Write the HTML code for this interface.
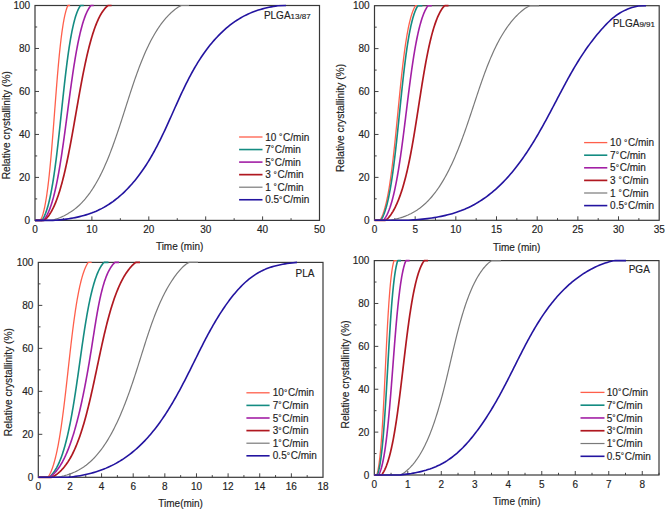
<!DOCTYPE html>
<html><head><meta charset="utf-8"><style>
html,body{margin:0;padding:0;background:#fff;}
body{width:666px;height:512px;overflow:hidden;font-family:"Liberation Sans",sans-serif;}
svg{display:block;}
</style></head><body>
<svg width="666" height="512" viewBox="0 0 666 512"><path d="M63.45 220.4v-2.2M91.9 220.4v-4M120.35 220.4v-2.2M148.8 220.4v-4M177.25 220.4v-2.2M205.7 220.4v-4M234.15 220.4v-2.2M262.6 220.4v-4M291.05 220.4v-2.2M35 198.91h2.2M35 177.42h4M35 155.93h2.2M35 134.44h4M35 112.95h2.2M35 91.46h4M35 69.97h2.2M35 48.48h4M35 26.99h2.2" stroke="#444" stroke-width="1" fill="none"/>
<rect x="35" y="5.5" width="284.5" height="214.9" fill="none" stroke="#383838" stroke-width="1.2"/>
<g font-family="Liberation Sans, sans-serif" stroke="#222" stroke-width="0.15" font-size="10" fill="#222"><text x="35" y="233" text-anchor="middle">0</text><text x="91.9" y="233" text-anchor="middle">10</text><text x="148.8" y="233" text-anchor="middle">20</text><text x="205.7" y="233" text-anchor="middle">30</text><text x="262.6" y="233" text-anchor="middle">40</text><text x="319.5" y="233" text-anchor="middle">50</text><text x="30.1" y="224" text-anchor="end">0</text><text x="30.1" y="181.02" text-anchor="end">20</text><text x="30.1" y="138.04" text-anchor="end">40</text><text x="30.1" y="95.06" text-anchor="end">60</text><text x="30.1" y="52.08" text-anchor="end">80</text><text x="30.1" y="9.1" text-anchor="end">100</text></g>
<text font-family="Liberation Sans, sans-serif" stroke="#222" stroke-width="0.15" font-size="10" fill="#222" x="179.6" y="249.6" text-anchor="middle">Time (min)</text>
<text font-family="Liberation Sans, sans-serif" stroke="#222" stroke-width="0.15" font-size="10.2" fill="#222" transform="translate(10 125.2) rotate(-90)" text-anchor="middle">Relative crystallinity (%)</text>
<text font-family="Liberation Sans, sans-serif" stroke="#222" stroke-width="0.15" font-size="10" fill="#222" x="263.9" y="18.9">PLGA<tspan font-size="8" dy="0.4">13/87</tspan></text>
<g font-family="Liberation Sans, sans-serif" stroke="#222" stroke-width="0.15" font-size="10" fill="#222"><path d="M239.1 137H262.5" stroke="#ff5f4b" stroke-width="1.3"/><text x="265.2" y="140.6">10 <tspan font-size="8.3" dy="-0.7">°</tspan><tspan dx="0.68" dy="0.7">C/min</tspan></text><path d="M239.1 149.55H262.5" stroke="#148c82" stroke-width="1.6"/><text x="265.2" y="153.15">7<tspan font-size="8.3" dy="-0.7">°</tspan><tspan dx="0.68" dy="0.7">C/min</tspan></text><path d="M239.1 162.1H262.5" stroke="#a21fa5" stroke-width="1.6"/><text x="265.2" y="165.7">5<tspan font-size="8.3" dy="-0.7">°</tspan><tspan dx="0.68" dy="0.7">C/min</tspan></text><path d="M239.1 174.65H262.5" stroke="#b01820" stroke-width="1.7"/><text x="265.2" y="178.25">3 <tspan font-size="8.3" dy="-0.7">°</tspan><tspan dx="0.68" dy="0.7">C/min</tspan></text><path d="M239.1 187.2H262.5" stroke="#7a7a7a" stroke-width="1.2"/><text x="265.2" y="190.8">1 <tspan font-size="8.3" dy="-0.7">°</tspan><tspan dx="0.68" dy="0.7">C/min</tspan></text><path d="M239.1 199.75H262.5" stroke="#2314a0" stroke-width="1.6"/><text x="265.2" y="203.35">0.5<tspan font-size="8.3" dy="-0.7">°</tspan><tspan dx="0.68" dy="0.7">C/min</tspan></text></g>
<path d="M35 220.4L35.71 220.4 36.02 220.4 36.32 220.4 36.62 220.4 36.92 220.4 37.21 220.4 37.5 220.4 37.78 220.4 38.07 220.4 38.35 220.4 38.62 220.4 38.89 220.4 39.16 220.4 39.43 220.4 39.7 220.4 39.96 220.4 40.22 220.4 40.47 220.03 40.72 219.61 40.97 219.15 41.22 218.66 41.46 218.13 41.71 217.56 41.95 216.96 42.18 216.33 42.42 215.66 42.65 214.96 42.87 214.23 43.1 213.47 43.32 212.67 43.55 211.85 43.76 210.99 43.98 210.11 44.2 209.19 44.41 208.24 44.62 207.27 44.82 206.27 45.03 205.24 45.23 204.18 45.43 203.1 45.63 201.99 45.83 200.85 46.02 199.69 46.22 198.5 46.41 197.29 46.6 196.06 46.79 194.8 46.97 193.51 47.15 192.21 47.34 190.88 47.52 189.53 47.7 188.16 47.87 186.77 48.05 185.36 48.22 183.93 48.39 182.48 48.57 181.01 48.74 179.52 48.9 178.02 49.07 176.49 49.24 174.95 49.4 173.4 49.56 171.82 49.72 170.23 49.88 168.63 50.04 167.01 50.2 165.38 50.36 163.73 50.51 162.07 50.67 160.39 50.82 158.71 50.98 157.01 51.13 155.3 51.28 153.58 51.43 151.85 51.58 150.11 51.73 148.36 51.87 146.59 52.02 144.83 52.17 143.05 52.31 141.26 52.46 139.47 52.6 137.67 52.75 135.86 52.89 134.05 53.04 132.23 53.18 130.41 53.32 128.58 53.46 126.75 53.61 124.92 53.75 123.08 53.89 121.24 54.03 119.39 54.17 117.55 54.31 115.7 54.45 113.85 54.59 112 54.73 110.16 54.87 108.31 55.02 106.46 55.16 104.62 55.3 102.77 55.44 100.93 55.58 99.09 55.72 97.26 55.86 95.43 56.01 93.6 56.15 91.78 56.29 89.96 56.43 88.15 56.58 86.35 56.72 84.55 56.87 82.75 57.01 80.97 57.16 79.19 57.31 77.42 57.45 75.67 57.6 73.92 57.75 72.17 57.9 70.44 58.05 68.73 58.2 67.02 58.35 65.32 58.5 63.64 58.66 61.96 58.81 60.3 58.97 58.66 59.13 57.03 59.28 55.41 59.44 53.81 59.6 52.22 59.76 50.65 59.93 49.09 60.09 47.55 60.26 46.03 60.42 44.53 60.59 43.04 60.76 41.58 60.93 40.13 61.1 38.7 61.28 37.29 61.45 35.9 61.63 34.54 61.81 33.19 61.99 31.87 62.17 30.56 62.35 29.29 62.54 28.03 62.73 26.8 62.92 25.59 63.11 24.41 63.3 23.25 63.49 22.11 63.69 21.01 63.89 19.93 64.09 18.87 64.29 17.85 64.5 16.85 64.71 15.88 64.92 14.94 65.13 14.02 65.34 13.14 65.56 12.29 65.78 11.47 66 10.67 66.22 9.92 66.45 9.19 66.68 8.49 66.91 7.83 67.14 7.2 67.38 6.61 67.61 6.05 67.86 5.52 68.1 5.5 68.35 5.5 68.6 5.5 68.85 5.5 70.1 5.5" fill="none" stroke="#ff5f4b" stroke-width="1.3" stroke-linejoin="round"/>
<path d="M35 220.4L35.63 220.4 36.07 220.4 36.51 220.4 36.94 220.4 37.36 220.4 37.79 220.4 38.2 220.4 38.61 220.4 39.02 220.4 39.42 220.4 39.81 220.4 40.2 220.4 40.59 220.4 40.97 220.4 41.35 220.4 41.72 220.35 42.09 219.9 42.45 219.4 42.81 218.87 43.17 218.3 43.52 217.69 43.86 217.05 44.21 216.37 44.55 215.66 44.88 214.92 45.21 214.14 45.54 213.33 45.86 212.48 46.18 211.61 46.5 210.7 46.81 209.76 47.12 208.79 47.42 207.8 47.72 206.77 48.02 205.71 48.32 204.63 48.61 203.51 48.89 202.37 49.18 201.2 49.46 200.01 49.74 198.79 50.02 197.54 50.29 196.27 50.56 194.98 50.83 193.66 51.09 192.31 51.35 190.95 51.61 189.56 51.87 188.15 52.12 186.72 52.37 185.26 52.62 183.79 52.87 182.29 53.11 180.78 53.36 179.25 53.6 177.7 53.83 176.13 54.07 174.54 54.3 172.94 54.54 171.31 54.77 169.68 54.99 168.03 55.22 166.36 55.44 164.68 55.67 162.98 55.89 161.27 56.11 159.55 56.33 157.81 56.54 156.06 56.76 154.3 56.97 152.53 57.19 150.75 57.4 148.96 57.61 147.16 57.82 145.35 58.03 143.53 58.23 141.7 58.44 139.87 58.65 138.02 58.85 136.17 59.06 134.32 59.26 132.46 59.46 130.59 59.66 128.72 59.87 126.85 60.07 124.97 60.27 123.09 60.47 121.2 60.67 119.32 60.87 117.43 61.07 115.54 61.27 113.65 61.47 111.76 61.67 109.86 61.87 107.97 62.07 106.09 62.27 104.2 62.47 102.31 62.67 100.43 62.87 98.55 63.07 96.68 63.28 94.81 63.48 92.94 63.68 91.08 63.89 89.23 64.09 87.38 64.3 85.53 64.5 83.7 64.71 81.87 64.92 80.05 65.13 78.24 65.34 76.44 65.55 74.65 65.76 72.87 65.97 71.09 66.19 69.33 66.4 67.59 66.62 65.85 66.84 64.13 67.06 62.42 67.28 60.72 67.51 59.04 67.73 57.37 67.96 55.71 68.19 54.08 68.42 52.46 68.65 50.85 68.89 49.26 69.12 47.69 69.36 46.14 69.6 44.61 69.85 43.09 70.09 41.6 70.34 40.12 70.59 38.67 70.84 37.24 71.1 35.82 71.36 34.44 71.62 33.07 71.88 31.72 72.15 30.4 72.42 29.11 72.69 27.84 72.96 26.59 73.24 25.37 73.52 24.17 73.8 23 74.09 21.86 74.38 20.75 74.67 19.66 74.97 18.6 75.27 17.57 75.57 16.57 75.88 15.6 76.19 14.66 76.5 13.76 76.82 12.88 77.14 12.03 77.47 11.22 77.8 10.44 78.13 9.7 78.47 8.99 78.81 8.31 79.15 7.66 79.5 7.06 79.85 6.49 80.21 5.95 80.57 5.5 80.94 5.5 81.31 5.5 81.69 5.5 82.07 5.5 82.45 5.5 83.8 5.5" fill="none" stroke="#148c82" stroke-width="1.6" stroke-linejoin="round"/>
<path d="M35 220.4L35.99 220.4 36.52 220.4 37.05 220.4 37.57 220.4 38.08 220.4 38.59 220.4 39.09 220.4 39.58 220.4 40.07 220.4 40.55 220.4 41.03 220.4 41.51 220.4 41.97 220.4 42.43 220.4 42.89 220.4 43.34 220.27 43.79 219.8 44.23 219.29 44.66 218.75 45.09 218.17 45.52 217.56 45.94 216.91 46.35 216.23 46.76 215.51 47.17 214.76 47.57 213.98 47.97 213.17 48.36 212.32 48.75 211.44 49.13 210.53 49.51 209.59 49.89 208.62 50.26 207.62 50.62 206.59 50.99 205.53 51.35 204.45 51.7 203.33 52.05 202.19 52.4 201.02 52.75 199.83 53.09 198.61 53.42 197.37 53.76 196.1 54.09 194.81 54.41 193.49 54.74 192.15 55.06 190.79 55.37 189.4 55.69 187.99 56 186.57 56.31 185.12 56.61 183.65 56.92 182.16 57.22 180.65 57.51 179.12 57.81 177.58 58.1 176.01 58.39 174.43 58.68 172.83 58.96 171.22 59.25 169.59 59.53 167.94 59.81 166.28 60.08 164.61 60.36 162.92 60.63 161.22 60.9 159.5 61.17 157.77 61.44 156.03 61.71 154.28 61.97 152.52 62.23 150.74 62.5 148.96 62.76 147.17 63.01 145.37 63.27 143.56 63.53 141.74 63.78 139.91 64.04 138.08 64.29 136.24 64.55 134.39 64.8 132.54 65.05 130.68 65.3 128.82 65.55 126.95 65.8 125.08 66.05 123.21 66.3 121.34 66.55 119.46 66.79 117.58 67.04 115.7 67.29 113.81 67.54 111.93 67.79 110.05 68.03 108.17 68.28 106.29 68.53 104.41 68.78 102.53 69.03 100.66 69.28 98.79 69.53 96.92 69.78 95.06 70.03 93.2 70.28 91.35 70.53 89.5 70.79 87.66 71.04 85.82 71.3 83.99 71.55 82.17 71.81 80.36 72.07 78.55 72.33 76.76 72.59 74.97 72.85 73.19 73.12 71.43 73.38 69.67 73.65 67.93 73.92 66.2 74.19 64.48 74.46 62.77 74.74 61.08 75.01 59.4 75.29 57.73 75.57 56.08 75.85 54.45 76.14 52.83 76.43 51.23 76.72 49.64 77.01 48.07 77.3 46.52 77.6 44.99 77.9 43.47 78.2 41.98 78.5 40.5 78.81 39.05 79.12 37.61 79.44 36.2 79.75 34.81 80.07 33.44 80.39 32.09 80.72 30.76 81.05 29.46 81.38 28.19 81.72 26.93 82.06 25.71 82.4 24.51 82.75 23.33 83.1 22.18 83.45 21.06 83.81 19.96 84.17 18.9 84.54 17.86 84.91 16.85 85.28 15.87 85.66 14.92 86.04 14 86.43 13.11 86.82 12.26 87.22 11.43 87.62 10.64 88.02 9.88 88.43 9.15 88.85 8.46 89.27 7.8 89.69 7.17 90.12 6.59 90.55 6.03 90.99 5.52 91.44 5.5 91.89 5.5 92.34 5.5 93.7 5.5" fill="none" stroke="#a21fa5" stroke-width="1.6" stroke-linejoin="round"/>
<path d="M35 220.4L35.6 220.4 36.3 220.4 36.99 220.4 37.68 220.4 38.35 220.4 39.02 220.4 39.68 220.4 40.33 220.4 40.98 220.4 41.61 220.4 42.24 220.4 42.86 220.4 43.47 220.4 44.08 220.4 44.68 219.98 45.27 219.47 45.86 218.92 46.43 218.34 47 217.72 47.57 217.06 48.13 216.37 48.68 215.65 49.22 214.89 49.76 214.1 50.29 213.27 50.82 212.41 51.34 211.52 51.85 210.6 52.36 209.65 52.86 208.67 53.36 207.66 53.85 206.61 54.33 205.54 54.81 204.45 55.29 203.32 55.76 202.16 56.22 200.98 56.68 199.78 57.13 198.54 57.58 197.28 58.03 196 58.47 194.69 58.9 193.36 59.34 192 59.76 190.63 60.19 189.23 60.6 187.8 61.02 186.36 61.43 184.89 61.83 183.41 62.24 181.9 62.64 180.38 63.03 178.83 63.42 177.27 63.81 175.69 64.2 174.09 64.58 172.48 64.96 170.85 65.33 169.2 65.71 167.54 66.08 165.86 66.44 164.17 66.81 162.46 67.17 160.74 67.53 159.01 67.89 157.27 68.24 155.51 68.6 153.74 68.95 151.96 69.3 150.17 69.64 148.37 69.99 146.56 70.33 144.74 70.68 142.92 71.02 141.08 71.35 139.24 71.69 137.39 72.03 135.54 72.37 133.67 72.7 131.81 73.03 129.94 73.37 128.06 73.7 126.18 74.03 124.29 74.36 122.41 74.69 120.52 75.02 118.63 75.35 116.73 75.68 114.84 76.01 112.94 76.34 111.05 76.67 109.16 77 107.26 77.33 105.37 77.67 103.48 78 101.59 78.33 99.71 78.66 97.83 79 95.95 79.33 94.08 79.67 92.21 80 90.35 80.34 88.49 80.68 86.64 81.02 84.8 81.36 82.97 81.71 81.14 82.05 79.32 82.4 77.51 82.75 75.71 83.1 73.92 83.45 72.14 83.81 70.37 84.17 68.61 84.53 66.87 84.89 65.13 85.25 63.41 85.62 61.7 85.99 60.01 86.36 58.33 86.74 56.67 87.12 55.02 87.5 53.39 87.89 51.77 88.28 50.17 88.67 48.59 89.06 47.03 89.46 45.48 89.87 43.96 90.27 42.45 90.68 40.96 91.1 39.5 91.52 38.05 91.94 36.63 92.37 35.22 92.8 33.84 93.23 32.49 93.67 31.15 94.12 29.84 94.57 28.56 95.02 27.29 95.48 26.06 95.95 24.85 96.42 23.67 96.89 22.51 97.37 21.38 97.86 20.28 98.35 19.21 98.84 18.16 99.35 17.15 99.85 16.17 100.37 15.21 100.89 14.29 101.41 13.4 101.95 12.54 102.48 11.71 103.03 10.91 103.58 10.15 104.14 9.42 104.7 8.73 105.27 8.07 105.85 7.45 106.44 6.86 107.03 6.31 107.63 5.79 108.24 5.5 108.85 5.5 109.47 5.5 110.1 5.5 111.6 5.5" fill="none" stroke="#b01820" stroke-width="1.7" stroke-linejoin="round"/>
<path d="M35 220.4L36.63 220.4 37.93 220.4 39.24 220.4 40.55 220.4 41.87 220.4 43.2 220.4 44.52 220.4 45.85 220.4 47.18 220.4 48.52 220.4 49.85 220.4 51.18 220.4 52.51 220.16 53.84 219.79 55.16 219.38 56.49 218.94 57.8 218.47 59.11 217.97 60.42 217.44 61.72 216.88 63 216.29 64.29 215.67 65.56 215.01 66.82 214.33 68.07 213.61 69.3 212.86 70.53 212.09 71.74 211.27 72.93 210.43 74.11 209.56 75.28 208.65 76.42 207.71 77.55 206.74 78.67 205.74 79.77 204.71 80.85 203.65 81.91 202.56 82.96 201.44 84 200.29 85.02 199.12 86.02 197.91 87.01 196.68 87.99 195.43 88.95 194.14 89.9 192.84 90.83 191.5 91.76 190.15 92.67 188.77 93.56 187.36 94.45 185.94 95.32 184.49 96.18 183.01 97.03 181.52 97.87 180.01 98.7 178.48 99.51 176.92 100.32 175.35 101.12 173.76 101.9 172.15 102.68 170.52 103.45 168.88 104.21 167.22 104.96 165.54 105.7 163.85 106.43 162.14 107.16 160.42 107.88 158.68 108.59 156.93 109.29 155.16 109.99 153.39 110.68 151.6 111.36 149.8 112.04 147.99 112.71 146.17 113.38 144.33 114.04 142.49 114.7 140.64 115.35 138.78 116 136.91 116.64 135.04 117.28 133.16 117.92 131.27 118.55 129.37 119.18 127.47 119.81 125.57 120.43 123.66 121.06 121.75 121.68 119.83 122.3 117.91 122.91 115.99 123.53 114.06 124.15 112.14 124.76 110.21 125.38 108.28 125.99 106.36 126.61 104.43 127.22 102.51 127.84 100.58 128.46 98.66 129.07 96.74 129.69 94.83 130.32 92.91 130.94 91.01 131.57 89.1 132.2 87.2 132.83 85.31 133.47 83.43 134.11 81.55 134.75 79.67 135.4 77.81 136.05 75.95 136.71 74.1 137.37 72.27 138.04 70.44 138.71 68.62 139.39 66.81 140.08 65.02 140.77 63.23 141.47 61.46 142.18 59.7 142.9 57.95 143.62 56.22 144.35 54.5 145.09 52.8 145.84 51.11 146.6 49.44 147.37 47.79 148.15 46.15 148.93 44.53 149.73 42.93 150.54 41.34 151.36 39.78 152.19 38.23 153.04 36.7 153.89 35.2 154.76 33.71 155.64 32.25 156.54 30.81 157.44 29.39 158.36 28 159.3 26.62 160.24 25.28 161.21 23.95 162.18 22.65 163.18 21.38 164.18 20.14 165.21 18.92 166.25 17.72 167.3 16.56 168.38 15.42 169.47 14.31 170.57 13.23 171.7 12.18 172.84 11.17 174 10.19 175.17 9.26 176.36 8.38 177.56 7.56 178.78 6.8 180.01 6.11 181.25 5.5 182.5 5.5 183.76 5.5 189 5.5" fill="none" stroke="#7a7a7a" stroke-width="1.2" stroke-linejoin="round"/>
<path d="M35 220.4L37.1 220.4 39.36 220.4 41.62 220.4 43.88 220.4 46.15 220.4 48.41 220.4 50.68 220.4 52.94 220.4 55.21 220.32 57.46 220.13 59.72 219.91 61.96 219.67 64.2 219.4 66.43 219.1 68.65 218.77 70.87 218.41 73.07 218.01 75.25 217.59 77.43 217.12 79.58 216.62 81.72 216.08 83.85 215.5 85.95 214.88 88.04 214.22 90.11 213.52 92.15 212.78 94.17 211.99 96.17 211.15 98.14 210.27 100.09 209.34 102 208.36 103.89 207.33 105.76 206.26 107.59 205.14 109.4 203.98 111.19 202.77 112.94 201.53 114.67 200.24 116.37 198.92 118.05 197.57 119.7 196.17 121.32 194.75 122.92 193.29 124.49 191.8 126.03 190.28 127.55 188.74 129.04 187.17 130.51 185.57 131.95 183.95 133.36 182.31 134.75 180.65 136.12 178.97 137.45 177.27 138.77 175.56 140.05 173.83 141.32 172.08 142.56 170.32 143.78 168.55 144.97 166.76 146.15 164.96 147.3 163.14 148.44 161.32 149.56 159.48 150.66 157.63 151.74 155.77 152.8 153.9 153.85 152.01 154.88 150.12 155.9 148.22 156.91 146.31 157.9 144.4 158.88 142.47 159.85 140.54 160.81 138.6 161.76 136.65 162.7 134.7 163.63 132.75 164.55 130.79 165.47 128.82 166.38 126.85 167.28 124.88 168.18 122.9 169.07 120.92 169.96 118.94 170.85 116.96 171.74 114.97 172.63 112.99 173.51 111 174.4 109.02 175.28 107.04 176.17 105.05 177.06 103.07 177.96 101.09 178.85 99.12 179.76 97.14 180.67 95.18 181.58 93.21 182.5 91.25 183.43 89.29 184.37 87.34 185.32 85.4 186.28 83.46 187.25 81.53 188.23 79.61 189.22 77.69 190.22 75.78 191.24 73.88 192.28 71.99 193.33 70.11 194.39 68.24 195.48 66.38 196.58 64.54 197.7 62.7 198.83 60.88 199.99 59.06 201.17 57.27 202.37 55.48 203.59 53.71 204.84 51.95 206.11 50.21 207.4 48.49 208.72 46.78 210.06 45.08 211.43 43.41 212.83 41.75 214.25 40.12 215.7 38.51 217.17 36.92 218.67 35.36 220.19 33.82 221.75 32.31 223.32 30.83 224.93 29.39 226.56 27.97 228.21 26.59 229.9 25.24 231.61 23.93 233.35 22.66 235.11 21.42 236.9 20.23 238.72 19.08 240.56 17.97 242.43 16.91 244.33 15.89 246.26 14.92 248.21 14 250.19 13.13 252.2 12.3 254.23 11.52 256.28 10.79 258.35 10.11 260.45 9.46 262.56 8.86 264.7 8.3 266.84 7.79 269.01 7.31 271.19 6.87 273.38 6.47 275.58 6.11 277.8 5.78 286 5.5" fill="none" stroke="#2314a0" stroke-width="1.6" stroke-linejoin="round"/>
<path d="M394.84 220.3v-2.2M415.17 220.3v-4M435.51 220.3v-2.2M455.84 220.3v-4M476.18 220.3v-2.2M496.51 220.3v-4M516.85 220.3v-2.2M537.19 220.3v-4M557.52 220.3v-2.2M577.86 220.3v-4M598.19 220.3v-2.2M618.53 220.3v-4M638.86 220.3v-2.2M374.5 198.84h2.2M374.5 177.38h4M374.5 155.92h2.2M374.5 134.46h4M374.5 113h2.2M374.5 91.54h4M374.5 70.08h2.2M374.5 48.62h4M374.5 27.16h2.2" stroke="#444" stroke-width="1" fill="none"/>
<rect x="374.5" y="5.7" width="284.7" height="214.6" fill="none" stroke="#383838" stroke-width="1.2"/>
<g font-family="Liberation Sans, sans-serif" stroke="#222" stroke-width="0.15" font-size="10" fill="#222"><text x="374.5" y="232.8" text-anchor="middle">0</text><text x="415.17" y="232.8" text-anchor="middle">5</text><text x="455.84" y="232.8" text-anchor="middle">10</text><text x="496.51" y="232.8" text-anchor="middle">15</text><text x="537.19" y="232.8" text-anchor="middle">20</text><text x="577.86" y="232.8" text-anchor="middle">25</text><text x="618.53" y="232.8" text-anchor="middle">30</text><text x="659.2" y="232.8" text-anchor="middle">35</text><text x="369.6" y="223.9" text-anchor="end">0</text><text x="369.6" y="180.98" text-anchor="end">20</text><text x="369.6" y="138.06" text-anchor="end">40</text><text x="369.6" y="95.14" text-anchor="end">60</text><text x="369.6" y="52.22" text-anchor="end">80</text><text x="369.6" y="9.3" text-anchor="end">100</text></g>
<text font-family="Liberation Sans, sans-serif" stroke="#222" stroke-width="0.15" font-size="10" fill="#222" x="516.7" y="251" text-anchor="middle">Time (min)</text>
<text font-family="Liberation Sans, sans-serif" stroke="#222" stroke-width="0.15" font-size="10.2" fill="#222" transform="translate(344.4 118) rotate(-90)" text-anchor="middle">Relative crystallinity (%)</text>
<text font-family="Liberation Sans, sans-serif" stroke="#222" stroke-width="0.15" font-size="10" fill="#222" x="612.7" y="26.6">PLGA<tspan font-size="8" dy="0.4">9/91</tspan></text>
<g font-family="Liberation Sans, sans-serif" stroke="#222" stroke-width="0.15" font-size="10" fill="#222"><path d="M584.1 142.6H607.3" stroke="#ff5f4b" stroke-width="1.3"/><text x="610.1" y="146.2">10 <tspan font-size="8.3" dy="-0.7">°</tspan><tspan dx="0.68" dy="0.7">C/min</tspan></text><path d="M584.1 155.2H607.3" stroke="#148c82" stroke-width="1.6"/><text x="610.1" y="158.8">7<tspan font-size="8.3" dy="-0.7">°</tspan><tspan dx="0.68" dy="0.7">C/min</tspan></text><path d="M584.1 167.8H607.3" stroke="#a21fa5" stroke-width="1.6"/><text x="610.1" y="171.4">5<tspan font-size="8.3" dy="-0.7">°</tspan><tspan dx="0.68" dy="0.7">C/min</tspan></text><path d="M584.1 180.4H607.3" stroke="#b01820" stroke-width="1.7"/><text x="610.1" y="184">3 <tspan font-size="8.3" dy="-0.7">°</tspan><tspan dx="0.68" dy="0.7">C/min</tspan></text><path d="M584.1 193H607.3" stroke="#7a7a7a" stroke-width="1.2"/><text x="610.1" y="196.6">1 <tspan font-size="8.3" dy="-0.7">°</tspan><tspan dx="0.68" dy="0.7">C/min</tspan></text><path d="M584.1 205.6H607.3" stroke="#2314a0" stroke-width="1.6"/><text x="610.1" y="209.2">0.5<tspan font-size="8.3" dy="-0.7">°</tspan><tspan dx="0.68" dy="0.7">C/min</tspan></text></g>
<path d="M374.5 220.3L375.04 220.3 375.46 220.3 375.87 220.3 376.28 220.3 376.68 220.3 377.08 220.3 377.47 220.3 377.85 220.3 378.24 220.3 378.61 220.3 378.99 220.3 379.35 220.3 379.72 220.3 380.07 220.07 380.43 219.51 380.78 218.9 381.12 218.26 381.46 217.59 381.8 216.87 382.13 216.12 382.45 215.34 382.78 214.52 383.1 213.67 383.41 212.78 383.72 211.86 384.03 210.9 384.33 209.92 384.63 208.9 384.93 207.85 385.22 206.77 385.51 205.66 385.8 204.53 386.08 203.36 386.36 202.16 386.63 200.94 386.9 199.69 387.17 198.41 387.44 197.1 387.7 195.77 387.96 194.42 388.22 193.04 388.47 191.63 388.72 190.2 388.97 188.75 389.22 187.28 389.46 185.78 389.7 184.26 389.94 182.72 390.17 181.16 390.4 179.58 390.63 177.99 390.86 176.37 391.09 174.73 391.31 173.08 391.54 171.41 391.76 169.72 391.97 168.01 392.19 166.29 392.4 164.56 392.62 162.81 392.83 161.04 393.04 159.27 393.24 157.48 393.45 155.67 393.66 153.86 393.86 152.03 394.06 150.19 394.26 148.35 394.46 146.49 394.66 144.62 394.86 142.75 395.05 140.86 395.25 138.97 395.44 137.07 395.64 135.17 395.83 133.25 396.02 131.34 396.22 129.41 396.41 127.49 396.6 125.56 396.79 123.62 396.98 121.68 397.17 119.74 397.36 117.8 397.55 115.86 397.74 113.92 397.93 111.97 398.11 110.03 398.3 108.08 398.49 106.14 398.68 104.2 398.87 102.27 399.06 100.33 399.25 98.4 399.44 96.47 399.64 94.55 399.83 92.63 400.02 90.72 400.21 88.81 400.41 86.91 400.6 85.02 400.8 83.14 400.99 81.26 401.19 79.39 401.39 77.53 401.59 75.68 401.79 73.85 402 72.02 402.2 70.2 402.4 68.4 402.61 66.61 402.82 64.83 403.03 63.06 403.24 61.31 403.45 59.58 403.67 57.86 403.88 56.15 404.1 54.46 404.32 52.79 404.55 51.13 404.77 49.49 405 47.88 405.23 46.27 405.46 44.69 405.69 43.13 405.93 41.59 406.17 40.07 406.41 38.57 406.65 37.1 406.9 35.64 407.14 34.21 407.4 32.81 407.65 31.42 407.91 30.07 408.17 28.73 408.43 27.43 408.7 26.15 408.97 24.89 409.24 23.67 409.52 22.47 409.8 21.3 410.08 20.16 410.36 19.04 410.65 17.96 410.95 16.91 411.24 15.89 411.55 14.9 411.85 13.95 412.16 13.02 412.47 12.13 412.79 11.28 413.11 10.45 413.43 9.67 413.76 8.91 414.09 8.2 414.43 7.52 414.77 6.88 415.12 6.27 415.47 5.7 415.82 5.7 416.18 5.7 416.54 5.7 416.91 5.7 417.29 5.7 417.66 5.7 418.05 5.7 419.2 5.7" fill="none" stroke="#ff5f4b" stroke-width="1.3" stroke-linejoin="round"/>
<path d="M374.5 220.3L375.23 220.3 375.68 220.3 376.11 220.3 376.55 220.3 376.98 220.3 377.4 220.3 377.82 220.3 378.23 220.3 378.64 220.3 379.04 220.3 379.43 220.3 379.82 220.3 380.21 220.3 380.59 220.3 380.97 220 381.34 219.44 381.71 218.84 382.07 218.2 382.42 217.52 382.78 216.81 383.12 216.06 383.47 215.27 383.81 214.45 384.14 213.6 384.47 212.71 384.8 211.78 385.12 210.83 385.44 209.84 385.76 208.82 386.07 207.77 386.37 206.68 386.68 205.57 386.98 204.43 387.27 203.25 387.56 202.05 387.85 200.82 388.14 199.57 388.42 198.28 388.7 196.97 388.97 195.63 389.24 194.27 389.51 192.88 389.78 191.47 390.04 190.04 390.3 188.58 390.56 187.1 390.81 185.59 391.07 184.07 391.31 182.52 391.56 180.95 391.8 179.36 392.05 177.76 392.29 176.13 392.52 174.48 392.76 172.82 392.99 171.14 393.22 169.44 393.45 167.73 393.67 166 393.9 164.25 394.12 162.5 394.34 160.72 394.56 158.93 394.78 157.13 394.99 155.32 395.21 153.5 395.42 151.66 395.63 149.81 395.84 147.95 396.05 146.09 396.26 144.21 396.47 142.32 396.67 140.43 396.88 138.53 397.08 136.62 397.29 134.7 397.49 132.78 397.69 130.85 397.89 128.92 398.09 126.98 398.29 125.04 398.49 123.1 398.69 121.15 398.89 119.2 399.09 117.25 399.28 115.3 399.48 113.34 399.68 111.39 399.88 109.44 400.08 107.49 400.28 105.53 400.47 103.59 400.67 101.64 400.87 99.7 401.07 97.76 401.27 95.82 401.47 93.89 401.68 91.97 401.88 90.05 402.08 88.13 402.28 86.23 402.49 84.33 402.69 82.44 402.9 80.55 403.11 78.68 403.32 76.82 403.53 74.96 403.74 73.12 403.95 71.29 404.17 69.46 404.38 67.66 404.6 65.86 404.82 64.08 405.04 62.31 405.26 60.56 405.49 58.82 405.71 57.09 405.94 55.38 406.17 53.69 406.4 52.02 406.64 50.36 406.87 48.72 407.11 47.1 407.35 45.5 407.6 43.92 407.84 42.36 408.09 40.82 408.34 39.31 408.6 37.81 408.85 36.34 409.11 34.89 409.38 33.46 409.64 32.06 409.91 30.68 410.18 29.32 410.46 28 410.73 26.7 411.02 25.42 411.3 24.17 411.59 22.95 411.88 21.76 412.17 20.6 412.47 19.47 412.78 18.37 413.08 17.3 413.39 16.26 413.71 15.25 414.02 14.27 414.35 13.33 414.67 12.41 415 11.54 415.34 10.7 415.68 9.89 416.02 9.11 416.37 8.38 416.72 7.68 417.07 7.02 417.44 6.39 417.8 5.8 418.17 5.7 418.55 5.7 418.93 5.7 419.31 5.7 419.7 5.7 420.1 5.7 420.5 5.7 420.91 5.7 421.32 5.7 422.4 5.7" fill="none" stroke="#148c82" stroke-width="1.6" stroke-linejoin="round"/>
<path d="M374.5 220.3L375.2 220.3 375.75 220.3 376.29 220.3 376.83 220.3 377.36 220.3 377.88 220.3 378.4 220.3 378.91 220.3 379.41 220.3 379.91 220.3 380.4 220.3 380.89 220.3 381.37 220.3 381.84 220.3 382.31 220.3 382.77 220.3 383.22 220.3 383.67 220.03 384.12 219.48 384.55 218.89 384.99 218.27 385.41 217.61 385.84 216.91 386.25 216.18 386.66 215.41 387.07 214.6 387.47 213.76 387.87 212.89 388.26 211.98 388.64 211.04 389.03 210.07 389.4 209.07 389.78 208.04 390.14 206.97 390.51 205.88 390.87 204.75 391.22 203.6 391.57 202.42 391.92 201.21 392.26 199.97 392.6 198.71 392.94 197.42 393.27 196.1 393.59 194.76 393.92 193.39 394.24 192 394.55 190.58 394.87 189.15 395.18 187.69 395.48 186.2 395.79 184.7 396.09 183.17 396.38 181.62 396.68 180.06 396.97 178.47 397.26 176.87 397.54 175.24 397.83 173.6 398.11 171.94 398.38 170.26 398.66 168.57 398.93 166.86 399.2 165.14 399.47 163.4 399.74 161.65 400 159.88 400.26 158.1 400.53 156.31 400.78 154.5 401.04 152.69 401.3 150.86 401.55 149.02 401.8 147.17 402.05 145.31 402.3 143.45 402.55 141.57 402.8 139.69 403.04 137.8 403.29 135.9 403.53 133.99 403.77 132.08 404.02 130.17 404.26 128.25 404.5 126.32 404.74 124.39 404.98 122.46 405.22 120.53 405.46 118.59 405.69 116.65 405.93 114.71 406.17 112.77 406.41 110.83 406.65 108.89 406.89 106.95 407.12 105.02 407.36 103.08 407.6 101.15 407.84 99.22 408.08 97.29 408.32 95.37 408.56 93.46 408.8 91.54 409.05 89.64 409.29 87.74 409.53 85.84 409.78 83.96 410.03 82.08 410.27 80.21 410.52 78.35 410.77 76.5 411.03 74.66 411.28 72.83 411.53 71.01 411.79 69.2 412.05 67.4 412.31 65.62 412.57 63.85 412.83 62.09 413.1 60.35 413.37 58.62 413.64 56.91 413.91 55.21 414.18 53.53 414.46 51.87 414.74 50.22 415.02 48.59 415.31 46.98 415.59 45.39 415.88 43.82 416.18 42.26 416.47 40.73 416.77 39.22 417.07 37.73 417.38 36.27 417.69 34.82 418 33.4 418.31 32 418.63 30.63 418.96 29.28 419.28 27.96 419.61 26.66 419.94 25.39 420.28 24.14 420.62 22.92 420.97 21.74 421.32 20.57 421.67 19.44 422.03 18.34 422.39 17.27 422.76 16.22 423.13 15.21 423.5 14.23 423.88 13.29 424.27 12.37 424.66 11.49 425.05 10.64 425.45 9.83 425.86 9.05 426.27 8.3 426.68 7.6 427.1 6.92 427.53 6.29 427.96 5.7 428.39 5.7 428.83 5.7 429.28 5.7 429.73 5.7 430.19 5.7 430.66 5.7 431.8 5.7" fill="none" stroke="#a21fa5" stroke-width="1.6" stroke-linejoin="round"/>
<path d="M374.5 220.3L375.18 220.3 375.86 220.3 376.54 220.3 377.21 220.3 377.87 220.3 378.54 220.3 379.19 220.3 379.84 220.3 380.49 220.3 381.13 220.3 381.76 220.3 382.39 220.3 383.01 220.3 383.63 220.3 384.25 220.3 384.85 220.3 385.46 220.3 386.05 220.03 386.65 219.51 387.24 218.96 387.82 218.37 388.39 217.75 388.97 217.09 389.53 216.4 390.09 215.68 390.65 214.93 391.2 214.15 391.75 213.33 392.29 212.49 392.83 211.61 393.36 210.7 393.88 209.77 394.4 208.81 394.92 207.81 395.43 206.79 395.93 205.74 396.43 204.67 396.93 203.56 397.42 202.43 397.91 201.28 398.39 200.1 398.86 198.89 399.33 197.66 399.8 196.4 400.26 195.12 400.71 193.82 401.16 192.49 401.61 191.14 402.05 189.77 402.48 188.38 402.91 186.96 403.34 185.52 403.76 184.06 404.17 182.59 404.58 181.09 404.99 179.57 405.39 178.03 405.78 176.48 406.17 174.9 406.56 173.31 406.94 171.7 407.32 170.08 407.69 168.43 408.06 166.78 408.42 165.1 408.78 163.41 409.14 161.71 409.49 159.99 409.84 158.26 410.18 156.51 410.52 154.75 410.86 152.98 411.2 151.2 411.53 149.4 411.86 147.6 412.19 145.78 412.51 143.96 412.84 142.12 413.15 140.27 413.47 138.42 413.79 136.56 414.1 134.68 414.41 132.81 414.72 130.92 415.03 129.03 415.34 127.13 415.65 125.22 415.95 123.31 416.25 121.4 416.56 119.48 416.86 117.56 417.16 115.63 417.46 113.7 417.76 111.77 418.06 109.83 418.36 107.89 418.66 105.96 418.96 104.02 419.26 102.08 419.56 100.14 419.86 98.2 420.17 96.26 420.47 94.33 420.77 92.39 421.08 90.46 421.38 88.53 421.69 86.6 422 84.68 422.31 82.76 422.62 80.85 422.93 78.94 423.25 77.05 423.56 75.15 423.88 73.27 424.2 71.4 424.53 69.53 424.85 67.68 425.18 65.84 425.51 64 425.85 62.19 426.18 60.38 426.52 58.59 426.86 56.81 427.21 55.05 427.56 53.31 427.91 51.58 428.27 49.87 428.63 48.17 428.99 46.5 429.36 44.84 429.73 43.21 430.11 41.6 430.49 40 430.87 38.43 431.26 36.89 431.65 35.36 432.05 33.87 432.46 32.39 432.86 30.95 433.28 29.53 433.69 28.13 434.12 26.77 434.55 25.43 434.98 24.12 435.42 22.85 435.87 21.6 436.32 20.38 436.78 19.2 437.24 18.05 437.71 16.94 438.19 15.85 438.67 14.81 439.16 13.8 439.65 12.82 440.16 11.88 440.67 10.98 441.18 10.12 441.71 9.3 442.24 8.52 442.78 7.78 443.32 7.08 443.88 6.42 444.44 5.8 445.01 5.7 445.58 5.7 446.17 5.7 446.76 5.7 447.36 5.7 448.5 5.7" fill="none" stroke="#b01820" stroke-width="1.7" stroke-linejoin="round"/>
<path d="M374.5 220.3L375.74 220.3 377.14 220.3 378.54 220.3 379.94 220.3 381.35 220.3 382.77 220.3 384.19 220.3 385.61 220.3 387.03 220.3 388.46 220.3 389.88 220.3 391.31 220.07 392.73 219.8 394.16 219.5 395.58 219.17 396.99 218.82 398.41 218.44 399.81 218.03 401.21 217.59 402.61 217.12 403.99 216.62 405.37 216.1 406.74 215.54 408.1 214.95 409.44 214.33 410.78 213.68 412.1 212.99 413.41 212.27 414.71 211.52 415.99 210.74 417.25 209.92 418.5 209.06 419.73 208.17 420.94 207.25 422.14 206.29 423.32 205.3 424.48 204.28 425.63 203.22 426.76 202.13 427.88 201.01 428.98 199.86 430.07 198.68 431.14 197.48 432.2 196.24 433.24 194.97 434.27 193.68 435.29 192.36 436.29 191.01 437.28 189.64 438.25 188.24 439.22 186.82 440.17 185.38 441.11 183.91 442.03 182.41 442.95 180.9 443.85 179.36 444.74 177.8 445.62 176.22 446.49 174.62 447.35 173 448.2 171.37 449.04 169.71 449.87 168.04 450.69 166.34 451.5 164.64 452.3 162.91 453.09 161.17 453.87 159.42 454.65 157.65 455.42 155.87 456.17 154.07 456.93 152.26 457.67 150.44 458.41 148.61 459.14 146.76 459.86 144.91 460.58 143.05 461.29 141.17 461.99 139.29 462.69 137.4 463.38 135.5 464.07 133.6 464.75 131.69 465.43 129.77 466.1 127.85 466.77 125.92 467.44 123.99 468.1 122.06 468.76 120.12 469.41 118.18 470.06 116.24 470.71 114.3 471.36 112.36 472 110.42 472.64 108.47 473.28 106.53 473.92 104.59 474.56 102.65 475.2 100.72 475.84 98.78 476.48 96.85 477.12 94.93 477.76 93 478.4 91.08 479.05 89.17 479.69 87.26 480.34 85.36 481 83.47 481.65 81.58 482.31 79.7 482.98 77.83 483.65 75.96 484.32 74.11 485 72.26 485.69 70.42 486.38 68.6 487.08 66.78 487.78 64.98 488.5 63.19 489.22 61.41 489.95 59.64 490.68 57.88 491.43 56.14 492.19 54.41 492.95 52.7 493.73 51 494.52 49.32 495.31 47.66 496.12 46.01 496.94 44.37 497.78 42.76 498.62 41.16 499.48 39.58 500.35 38.02 501.23 36.48 502.13 34.96 503.05 33.45 503.98 31.97 504.92 30.51 505.88 29.07 506.85 27.66 507.84 26.26 508.85 24.89 509.88 23.55 510.92 22.22 511.98 20.92 513.06 19.65 514.15 18.4 515.27 17.18 516.41 15.98 517.56 14.81 518.74 13.67 519.93 12.57 521.14 11.5 522.37 10.48 523.62 9.51 524.88 8.6 526.16 7.74 527.46 6.95 528.76 6.23 530.09 5.7 531.42 5.7 532.77 5.7 539 5.7" fill="none" stroke="#7a7a7a" stroke-width="1.2" stroke-linejoin="round"/>
<path d="M374.5 220.3L376.4 220.3 378.62 220.3 380.85 220.3 383.1 220.3 385.36 220.3 387.64 220.3 389.93 220.3 392.23 220.3 394.55 220.3 396.87 220.3 399.2 220.3 401.53 220.3 403.88 220.3 406.22 220.3 408.57 220.19 410.92 220.07 413.27 219.92 415.62 219.75 417.97 219.57 420.31 219.36 422.65 219.13 424.99 218.88 427.32 218.6 429.64 218.3 431.95 217.97 434.25 217.61 436.53 217.22 438.81 216.81 441.07 216.36 443.32 215.89 445.55 215.38 447.76 214.84 449.95 214.26 452.12 213.65 454.27 213.01 456.4 212.33 458.51 211.6 460.59 210.85 462.64 210.05 464.67 209.21 466.67 208.33 468.64 207.41 470.59 206.46 472.51 205.47 474.41 204.44 476.28 203.37 478.13 202.28 479.96 201.14 481.76 199.98 483.54 198.78 485.29 197.55 487.02 196.29 488.73 195 490.42 193.67 492.09 192.32 493.73 190.94 495.36 189.53 496.96 188.1 498.54 186.64 500.11 185.15 501.65 183.64 503.17 182.1 504.68 180.54 506.16 178.96 507.63 177.36 509.08 175.73 510.51 174.08 511.92 172.42 513.32 170.73 514.7 169.03 516.06 167.31 517.41 165.57 518.74 163.81 520.06 162.04 521.36 160.25 522.64 158.45 523.92 156.64 525.17 154.81 526.42 152.97 527.65 151.12 528.86 149.26 530.07 147.38 531.26 145.5 532.44 143.61 533.61 141.72 534.76 139.81 535.91 137.9 537.04 135.98 538.17 134.06 539.28 132.13 540.38 130.2 541.48 128.27 542.56 126.33 543.64 124.39 544.7 122.45 545.76 120.52 546.81 118.58 547.86 116.64 548.89 114.71 549.92 112.77 550.94 110.85 551.96 108.92 552.97 107 553.98 105.08 554.98 103.17 555.98 101.26 556.98 99.35 557.97 97.45 558.97 95.55 559.96 93.66 560.96 91.77 561.96 89.89 562.95 88.01 563.96 86.13 564.96 84.27 565.97 82.4 566.98 80.54 568 78.69 569.02 76.84 570.06 75 571.1 73.16 572.14 71.33 573.2 69.5 574.27 67.68 575.34 65.87 576.43 64.06 577.53 62.26 578.64 60.46 579.77 58.67 580.91 56.89 582.06 55.11 583.23 53.34 584.42 51.58 585.62 49.82 586.84 48.07 588.08 46.33 589.34 44.6 590.61 42.87 591.91 41.15 593.23 39.44 594.57 37.73 595.93 36.04 597.32 34.35 598.73 32.67 600.16 30.99 601.62 29.33 603.11 27.67 604.62 26.03 606.17 24.4 607.74 22.79 609.35 21.22 611 19.7 612.69 18.22 614.42 16.81 616.19 15.47 618.01 14.2 619.88 13.02 621.79 11.91 623.74 10.89 625.73 9.94 627.76 9.08 629.82 8.3 631.92 7.6 634.04 6.99 636.19 6.47 638.37 6.03 646 5.7" fill="none" stroke="#2314a0" stroke-width="1.6" stroke-linejoin="round"/>
<path d="M54.12 477.3v-2.2M69.93 477.3v-4M85.75 477.3v-2.2M101.57 477.3v-4M117.38 477.3v-2.2M133.2 477.3v-4M149.02 477.3v-2.2M164.83 477.3v-4M180.65 477.3v-2.2M196.47 477.3v-4M212.28 477.3v-2.2M228.1 477.3v-4M243.92 477.3v-2.2M259.73 477.3v-4M275.55 477.3v-2.2M291.37 477.3v-4M307.18 477.3v-2.2M38.3 455.81h2.2M38.3 434.32h4M38.3 412.83h2.2M38.3 391.34h4M38.3 369.85h2.2M38.3 348.36h4M38.3 326.87h2.2M38.3 305.38h4M38.3 283.89h2.2" stroke="#444" stroke-width="1" fill="none"/>
<rect x="38.3" y="262.4" width="284.7" height="214.9" fill="none" stroke="#383838" stroke-width="1.2"/>
<g font-family="Liberation Sans, sans-serif" stroke="#222" stroke-width="0.15" font-size="10" fill="#222"><text x="38.3" y="489.9" text-anchor="middle">0</text><text x="69.93" y="489.9" text-anchor="middle">2</text><text x="101.57" y="489.9" text-anchor="middle">4</text><text x="133.2" y="489.9" text-anchor="middle">6</text><text x="164.83" y="489.9" text-anchor="middle">8</text><text x="196.47" y="489.9" text-anchor="middle">10</text><text x="228.1" y="489.9" text-anchor="middle">12</text><text x="259.73" y="489.9" text-anchor="middle">14</text><text x="291.37" y="489.9" text-anchor="middle">16</text><text x="323" y="489.9" text-anchor="middle">18</text><text x="33.4" y="480.9" text-anchor="end">0</text><text x="33.4" y="437.92" text-anchor="end">20</text><text x="33.4" y="394.94" text-anchor="end">40</text><text x="33.4" y="351.96" text-anchor="end">60</text><text x="33.4" y="308.98" text-anchor="end">80</text><text x="33.4" y="266" text-anchor="end">100</text></g>
<text font-family="Liberation Sans, sans-serif" stroke="#222" stroke-width="0.15" font-size="10" fill="#222" x="180.6" y="507" text-anchor="middle">Time(min)</text>
<text font-family="Liberation Sans, sans-serif" stroke="#222" stroke-width="0.15" font-size="10.2" fill="#222" transform="translate(12 382.1) rotate(-90)" text-anchor="middle">Relative crystallinity (%)</text>
<text font-family="Liberation Sans, sans-serif" stroke="#222" stroke-width="0.15" font-size="10" fill="#222" x="295.6" y="276.5">PLA</text>
<g font-family="Liberation Sans, sans-serif" stroke="#222" stroke-width="0.15" font-size="10" fill="#222"><path d="M246.4 392.8H269.6" stroke="#ff5f4b" stroke-width="1.3"/><text x="272.8" y="396.4">10<tspan font-size="8.3" dy="-0.7">°</tspan><tspan dx="0.68" dy="0.7">C/min</tspan></text><path d="M246.4 405.4H269.6" stroke="#148c82" stroke-width="1.6"/><text x="272.8" y="409">7<tspan font-size="8.3" dy="-0.7">°</tspan><tspan dx="0.68" dy="0.7">C/min</tspan></text><path d="M246.4 418H269.6" stroke="#a21fa5" stroke-width="1.6"/><text x="272.8" y="421.6">5<tspan font-size="8.3" dy="-0.7">°</tspan><tspan dx="0.68" dy="0.7">C/min</tspan></text><path d="M246.4 430.6H269.6" stroke="#b01820" stroke-width="1.7"/><text x="272.8" y="434.2">3<tspan font-size="8.3" dy="-0.7">°</tspan><tspan dx="0.68" dy="0.7">C/min</tspan></text><path d="M246.4 443.2H269.6" stroke="#7a7a7a" stroke-width="1.2"/><text x="272.8" y="446.8">1<tspan font-size="8.3" dy="-0.7">°</tspan><tspan dx="0.68" dy="0.7">C/min</tspan></text><path d="M246.4 455.8H269.6" stroke="#2314a0" stroke-width="1.6"/><text x="272.8" y="459.4">0.5<tspan font-size="8.3" dy="-0.7">°</tspan><tspan dx="0.68" dy="0.7">C/min</tspan></text></g>
<path d="M38.3 477.3L38.97 477.3 39.49 477.3 40.01 477.3 40.52 477.3 41.03 477.3 41.53 477.3 42.02 477.3 42.5 477.3 42.98 477.3 43.45 477.3 43.92 477.3 44.38 477.3 44.83 477.3 45.28 477.3 45.73 477.3 46.16 477.3 46.59 477.3 47.02 477.3 47.44 477.3 47.85 477.3 48.26 476.78 48.67 476.15 49.06 475.49 49.46 474.8 49.85 474.06 50.23 473.29 50.61 472.49 50.98 471.64 51.35 470.77 51.71 469.86 52.07 468.91 52.43 467.93 52.78 466.92 53.12 465.88 53.47 464.81 53.8 463.7 54.14 462.56 54.46 461.4 54.79 460.2 55.11 458.98 55.43 457.73 55.74 456.45 56.05 455.14 56.36 453.81 56.66 452.45 56.96 451.06 57.25 449.65 57.54 448.22 57.83 446.76 58.12 445.27 58.4 443.77 58.68 442.24 58.96 440.69 59.23 439.12 59.5 437.53 59.77 435.92 60.03 434.29 60.3 432.64 60.56 430.97 60.81 429.29 61.07 427.59 61.32 425.87 61.57 424.13 61.82 422.38 62.07 420.61 62.31 418.83 62.55 417.03 62.79 415.22 63.03 413.4 63.27 411.57 63.5 409.72 63.74 407.86 63.97 405.99 64.2 404.12 64.43 402.23 64.66 400.33 64.89 398.42 65.11 396.51 65.34 394.59 65.56 392.66 65.79 390.72 66.01 388.78 66.23 386.84 66.45 384.88 66.67 382.93 66.89 380.97 67.11 379.01 67.33 377.04 67.55 375.08 67.77 373.11 67.99 371.14 68.2 369.17 68.42 367.2 68.64 365.23 68.86 363.26 69.08 361.3 69.3 359.33 69.52 357.37 69.74 355.42 69.96 353.46 70.18 351.52 70.4 349.57 70.63 347.63 70.85 345.7 71.07 343.78 71.3 341.86 71.53 339.95 71.76 338.05 71.98 336.16 72.22 334.27 72.45 332.4 72.68 330.54 72.92 328.69 73.15 326.85 73.39 325.02 73.63 323.2 73.87 321.4 74.11 319.61 74.36 317.84 74.61 316.08 74.86 314.34 75.11 312.61 75.36 310.9 75.62 309.21 75.88 307.53 76.14 305.87 76.41 304.23 76.67 302.61 76.94 301.01 77.21 299.44 77.49 297.88 77.77 296.34 78.05 294.82 78.33 293.33 78.62 291.86 78.91 290.42 79.21 289 79.5 287.6 79.8 286.23 80.11 284.88 80.42 283.56 80.73 282.27 81.04 281.01 81.36 279.77 81.69 278.56 82.01 277.38 82.35 276.23 82.68 275.11 83.02 274.03 83.37 272.97 83.71 271.94 84.07 270.95 84.43 269.99 84.79 269.07 85.16 268.17 85.53 267.32 85.9 266.49 86.28 265.71 86.67 264.96 87.06 264.24 87.46 263.57 87.86 262.93 88.27 262.4 88.68 262.4 89.1 262.4 89.52 262.4 89.95 262.4 90.39 262.4 91.7 262.4" fill="none" stroke="#ff5f4b" stroke-width="1.3" stroke-linejoin="round"/>
<path d="M38.3 477.3L39 477.3 39.65 477.3 40.3 477.3 40.95 477.3 41.59 477.3 42.22 477.3 42.85 477.3 43.48 477.3 44.1 477.3 44.72 477.3 45.33 477.3 45.94 477.3 46.55 477.3 47.15 477.3 47.74 477.3 48.33 477.3 48.91 477.3 49.49 476.9 50.07 476.4 50.64 475.86 51.2 475.29 51.76 474.68 52.32 474.05 52.86 473.37 53.41 472.67 53.94 471.94 54.48 471.17 55 470.37 55.52 469.54 56.04 468.67 56.55 467.78 57.05 466.85 57.55 465.89 58.04 464.91 58.52 463.89 59 462.84 59.47 461.76 59.94 460.66 60.4 459.52 60.85 458.35 61.3 457.16 61.74 455.94 62.18 454.69 62.61 453.42 63.03 452.11 63.45 450.79 63.86 449.44 64.27 448.06 64.68 446.66 65.07 445.23 65.47 443.78 65.86 442.31 66.24 440.82 66.62 439.3 67 437.77 67.37 436.21 67.73 434.63 68.1 433.03 68.45 431.42 68.81 429.78 69.16 428.13 69.5 426.45 69.85 424.76 70.19 423.06 70.52 421.33 70.86 419.59 71.18 417.84 71.51 416.07 71.83 414.28 72.15 412.49 72.47 410.67 72.79 408.85 73.1 407.01 73.41 405.16 73.71 403.3 74.02 401.42 74.32 399.54 74.62 397.65 74.92 395.74 75.21 393.83 75.51 391.91 75.8 389.98 76.09 388.04 76.38 386.09 76.67 384.14 76.96 382.18 77.24 380.22 77.53 378.25 77.81 376.27 78.1 374.29 78.38 372.31 78.66 370.32 78.94 368.34 79.22 366.34 79.5 364.35 79.78 362.36 80.06 360.36 80.34 358.37 80.62 356.38 80.9 354.38 81.18 352.4 81.47 350.41 81.75 348.43 82.03 346.45 82.32 344.48 82.6 342.51 82.89 340.55 83.18 338.6 83.46 336.65 83.76 334.71 84.05 332.79 84.34 330.87 84.64 328.96 84.94 327.06 85.24 325.18 85.54 323.3 85.85 321.44 86.16 319.6 86.47 317.77 86.78 315.95 87.1 314.15 87.42 312.36 87.74 310.6 88.07 308.85 88.4 307.12 88.73 305.4 89.07 303.71 89.41 302.04 89.75 300.39 90.1 298.76 90.46 297.15 90.81 295.57 91.18 294.01 91.54 292.47 91.92 290.96 92.29 289.48 92.67 288.02 93.06 286.59 93.45 285.19 93.85 283.81 94.25 282.47 94.66 281.15 95.08 279.86 95.5 278.61 95.92 277.39 96.35 276.2 96.79 275.04 97.24 273.92 97.69 272.83 98.15 271.77 98.61 270.75 99.08 269.77 99.56 268.83 100.05 267.92 100.54 267.05 101.04 266.22 101.55 265.43 102.07 264.68 102.59 263.97 103.12 263.31 103.66 262.68 104.21 262.4 104.76 262.4 105.33 262.4 105.9 262.4 106.48 262.4 107.07 262.4 108.5 262.4" fill="none" stroke="#148c82" stroke-width="1.6" stroke-linejoin="round"/>
<path d="M38.3 477.3L39 477.3 39.76 477.3 40.51 477.3 41.26 477.3 41.99 477.3 42.72 477.3 43.45 477.3 44.17 477.3 44.88 477.3 45.59 477.3 46.29 477.3 46.98 477.3 47.67 477.3 48.35 477.3 49.03 477.3 49.7 477.09 50.36 476.66 51.02 476.19 51.67 475.69 52.32 475.16 52.96 474.61 53.6 474.02 54.23 473.4 54.85 472.75 55.47 472.07 56.08 471.36 56.69 470.63 57.29 469.86 57.89 469.07 58.48 468.25 59.07 467.4 59.65 466.53 60.23 465.63 60.8 464.7 61.36 463.75 61.93 462.77 62.48 461.76 63.03 460.73 63.58 459.68 64.12 458.6 64.66 457.5 65.19 456.37 65.72 455.22 66.24 454.05 66.76 452.85 67.27 451.64 67.78 450.39 68.28 449.13 68.78 447.85 69.28 446.54 69.77 445.22 70.26 443.87 70.74 442.51 71.22 441.12 71.69 439.71 72.16 438.29 72.62 436.85 73.09 435.38 73.54 433.9 74 432.41 74.45 430.89 74.89 429.36 75.33 427.81 75.77 426.24 76.2 424.66 76.63 423.06 77.06 421.44 77.48 419.81 77.9 418.17 78.32 416.51 78.73 414.84 79.14 413.15 79.55 411.45 79.95 409.73 80.35 408.01 80.74 406.27 81.13 404.52 81.52 402.75 81.91 400.97 82.29 399.19 82.67 397.39 83.05 395.58 83.42 393.76 83.79 391.93 84.16 390.09 84.52 388.24 84.88 386.39 85.24 384.52 85.6 382.64 85.95 380.76 86.3 378.87 86.65 376.97 87 375.07 87.34 373.16 87.68 371.24 88.02 369.31 88.35 367.38 88.69 365.45 89.02 363.51 89.35 361.56 89.67 359.61 90 357.65 90.32 355.7 90.64 353.73 90.96 351.77 91.27 349.8 91.59 347.83 91.9 345.86 92.21 343.89 92.52 341.91 92.83 339.94 93.14 337.97 93.44 336 93.75 334.03 94.06 332.07 94.37 330.12 94.67 328.17 94.98 326.23 95.3 324.3 95.61 322.37 95.92 320.46 96.24 318.56 96.56 316.67 96.89 314.8 97.21 312.94 97.54 311.09 97.88 309.26 98.22 307.45 98.56 305.66 98.91 303.88 99.26 302.13 99.62 300.39 99.98 298.68 100.35 296.99 100.73 295.33 101.11 293.69 101.51 292.08 101.9 290.49 102.31 288.93 102.72 287.4 103.14 285.9 103.57 284.44 104.01 283 104.46 281.6 104.92 280.23 105.39 278.89 105.86 277.59 106.35 276.33 106.85 275.1 107.36 273.91 107.88 272.77 108.41 271.66 108.96 270.59 109.51 269.57 110.08 268.59 110.66 267.65 111.25 266.76 111.84 265.91 112.45 265.1 113.07 264.34 113.7 263.63 114.34 262.96 114.98 262.4 115.64 262.4 116.3 262.4 116.97 262.4 117.65 262.4 119 262.4" fill="none" stroke="#a21fa5" stroke-width="1.6" stroke-linejoin="round"/>
<path d="M38.3 477.3L39.18 477.3 40.08 477.3 40.97 477.3 41.86 477.3 42.75 477.3 43.64 477.3 44.53 477.3 45.42 477.3 46.3 477.3 47.18 477.3 48.06 477.3 48.94 477.3 49.81 477.3 50.68 477.3 51.54 477.3 52.4 477.04 53.26 476.57 54.11 476.06 54.95 475.53 55.79 474.95 56.63 474.35 57.46 473.71 58.28 473.04 59.09 472.33 59.9 471.6 60.7 470.83 61.5 470.03 62.28 469.2 63.06 468.33 63.83 467.43 64.59 466.51 65.34 465.55 66.08 464.56 66.81 463.53 67.53 462.48 68.24 461.4 68.94 460.28 69.64 459.14 70.32 457.97 70.99 456.77 71.65 455.54 72.3 454.28 72.95 453 73.58 451.69 74.21 450.35 74.82 448.99 75.43 447.6 76.03 446.19 76.62 444.75 77.21 443.3 77.78 441.81 78.35 440.31 78.91 438.79 79.47 437.24 80.01 435.67 80.55 434.09 81.09 432.48 81.61 430.85 82.13 429.21 82.65 427.55 83.16 425.87 83.66 424.17 84.16 422.46 84.65 420.73 85.14 418.99 85.62 417.23 86.09 415.46 86.56 413.68 87.03 411.88 87.49 410.07 87.95 408.24 88.41 406.41 88.86 404.56 89.31 402.71 89.75 400.84 90.19 398.97 90.63 397.08 91.06 395.19 91.49 393.29 91.92 391.39 92.35 389.47 92.77 387.56 93.19 385.63 93.61 383.7 94.03 381.77 94.45 379.83 94.86 377.89 95.28 375.94 95.69 374 96.1 372.05 96.52 370.1 96.93 368.15 97.34 366.2 97.75 364.25 98.16 362.3 98.57 360.36 98.99 358.41 99.4 356.47 99.81 354.53 100.23 352.6 100.64 350.66 101.06 348.74 101.48 346.82 101.9 344.9 102.33 342.99 102.75 341.09 103.18 339.19 103.61 337.3 104.05 335.43 104.48 333.56 104.93 331.69 105.37 329.84 105.82 328 106.27 326.17 106.72 324.36 107.18 322.55 107.65 320.76 108.12 318.98 108.59 317.21 109.07 315.46 109.56 313.72 110.05 312 110.54 310.3 111.04 308.61 111.55 306.94 112.06 305.28 112.58 303.64 113.11 302.02 113.64 300.43 114.18 298.85 114.73 297.29 115.29 295.75 115.85 294.23 116.42 292.73 117 291.26 117.59 289.81 118.18 288.38 118.79 286.97 119.4 285.59 120.02 284.24 120.65 282.91 121.29 281.61 121.94 280.33 122.6 279.08 123.27 277.86 123.95 276.66 124.65 275.49 125.35 274.36 126.06 273.25 126.77 272.18 127.5 271.14 128.24 270.13 128.99 269.16 129.74 268.23 130.51 267.33 131.28 266.47 132.06 265.64 132.85 264.86 133.65 264.11 134.46 263.41 135.27 262.75 136.09 262.4 136.92 262.4 137.75 262.4 138.59 262.4 140 262.4" fill="none" stroke="#b01820" stroke-width="1.7" stroke-linejoin="round"/>
<path d="M38.3 477.3L39.02 477.3 40.39 477.3 41.76 477.3 43.14 477.3 44.53 477.3 45.91 477.3 47.31 477.3 48.7 477.3 50.1 477.3 51.49 477.3 52.89 477.3 54.29 477.3 55.69 477.3 57.08 477.3 58.48 477.07 59.87 476.8 61.26 476.5 62.64 476.17 64.02 475.82 65.39 475.44 66.76 475.03 68.12 474.59 69.48 474.13 70.82 473.63 72.16 473.11 73.49 472.55 74.81 471.97 76.12 471.35 77.41 470.7 78.7 470.02 79.97 469.3 81.23 468.55 82.47 467.77 83.7 466.95 84.92 466.09 86.12 465.2 87.3 464.28 88.47 463.32 89.63 462.33 90.77 461.3 91.89 460.24 93 459.15 94.1 458.03 95.18 456.87 96.25 455.69 97.31 454.47 98.35 453.23 99.38 451.96 100.39 450.66 101.4 449.33 102.39 447.98 103.37 446.6 104.33 445.19 105.29 443.76 106.23 442.31 107.16 440.83 108.08 439.33 108.99 437.8 109.88 436.26 110.77 434.69 111.65 433.1 112.51 431.49 113.37 429.86 114.21 428.21 115.05 426.54 115.87 424.86 116.69 423.15 117.5 421.43 118.29 419.7 119.08 417.94 119.86 416.18 120.63 414.4 121.4 412.6 122.15 410.79 122.9 408.97 123.64 407.14 124.37 405.29 125.1 403.43 125.81 401.57 126.52 399.69 127.23 397.8 127.93 395.91 128.62 394.01 129.3 392.1 129.98 390.18 130.65 388.25 131.32 386.32 131.98 384.39 132.64 382.45 133.29 380.51 133.94 378.56 134.58 376.61 135.22 374.66 135.85 372.7 136.48 370.75 137.11 368.79 137.73 366.84 138.35 364.88 138.96 362.93 139.58 360.98 140.19 359.03 140.8 357.08 141.41 355.13 142.02 353.19 142.63 351.24 143.24 349.31 143.85 347.37 144.46 345.45 145.07 343.52 145.69 341.6 146.3 339.69 146.92 337.78 147.55 335.88 148.17 333.99 148.8 332.11 149.44 330.23 150.08 328.36 150.72 326.5 151.37 324.65 152.03 322.8 152.7 320.97 153.37 319.15 154.04 317.34 154.73 315.54 155.42 313.75 156.13 311.97 156.84 310.21 157.56 308.45 158.29 306.71 159.03 304.99 159.78 303.28 160.55 301.58 161.32 299.9 162.11 298.23 162.91 296.58 163.72 294.94 164.54 293.33 165.38 291.72 166.24 290.14 167.1 288.57 167.99 287.02 168.88 285.49 169.8 283.98 170.73 282.49 171.67 281.02 172.64 279.56 173.62 278.13 174.62 276.72 175.63 275.33 176.67 273.96 177.72 272.62 178.8 271.3 179.89 270.03 181.01 268.8 182.14 267.62 183.3 266.51 184.47 265.47 185.67 264.51 186.89 263.63 188.13 262.86 189.39 262.4 190.68 262.4 191.98 262.4 198 262.4" fill="none" stroke="#7a7a7a" stroke-width="1.2" stroke-linejoin="round"/>
<path d="M38.3 477.3L39.34 477.3 41.59 477.3 43.84 477.3 46.09 477.3 48.34 477.3 50.6 477.3 52.85 477.3 55.11 477.3 57.37 477.3 59.63 477.3 61.9 477.3 64.16 477.3 66.43 477.3 68.69 477.17 70.96 476.95 73.22 476.7 75.49 476.4 77.75 476.07 80.01 475.69 82.26 475.28 84.5 474.83 86.74 474.33 88.96 473.8 91.17 473.23 93.36 472.62 95.53 471.97 97.69 471.28 99.83 470.55 101.94 469.78 104.03 468.97 106.1 468.13 108.14 467.24 110.15 466.32 112.13 465.36 114.08 464.37 116 463.33 117.89 462.26 119.76 461.16 121.6 460.02 123.41 458.85 125.19 457.64 126.95 456.4 128.68 455.13 130.39 453.83 132.07 452.5 133.73 451.14 135.36 449.75 136.97 448.34 138.56 446.89 140.12 445.42 141.66 443.93 143.18 442.41 144.68 440.86 146.16 439.29 147.61 437.7 149.05 436.08 150.46 434.45 151.86 432.79 153.23 431.11 154.59 429.41 155.93 427.7 157.25 425.96 158.55 424.21 159.84 422.44 161.11 420.66 162.36 418.86 163.6 417.05 164.82 415.22 166.02 413.38 167.21 411.53 168.39 409.66 169.55 407.79 170.7 405.9 171.84 404.01 172.96 402.1 174.07 400.19 175.17 398.27 176.26 396.34 177.34 394.41 178.4 392.47 179.46 390.53 180.51 388.59 181.54 386.64 182.57 384.69 183.59 382.73 184.6 380.78 185.6 378.82 186.6 376.87 187.59 374.92 188.57 372.96 189.55 371.02 190.52 369.07 191.48 367.13 192.44 365.19 193.4 363.26 194.35 361.33 195.31 359.4 196.26 357.48 197.21 355.56 198.16 353.64 199.11 351.73 200.06 349.83 201.02 347.93 201.98 346.03 202.95 344.13 203.92 342.24 204.89 340.36 205.88 338.48 206.87 336.6 207.86 334.73 208.87 332.86 209.89 331 210.92 329.14 211.96 327.29 213.01 325.44 214.08 323.59 215.16 321.76 216.25 319.92 217.36 318.09 218.49 316.27 219.63 314.45 220.79 312.63 221.97 310.82 223.17 309.02 224.39 307.22 225.63 305.42 226.89 303.63 228.18 301.85 229.49 300.08 230.82 298.32 232.18 296.58 233.56 294.85 234.97 293.14 236.4 291.46 237.87 289.81 239.36 288.18 240.88 286.59 242.43 285.03 244.01 283.51 245.62 282.02 247.27 280.58 248.94 279.19 250.65 277.84 252.39 276.54 254.17 275.3 255.99 274.11 257.83 272.98 259.72 271.92 261.64 270.91 263.6 269.98 265.6 269.11 267.63 268.3 269.7 267.56 271.8 266.88 273.92 266.25 276.08 265.68 278.26 265.16 280.46 264.69 282.68 264.27 284.92 263.9 287.18 263.57 289.46 263.28 297 262.4" fill="none" stroke="#2314a0" stroke-width="1.6" stroke-linejoin="round"/>
<path d="M391.05 475v-2.2M407.79 475v-4M424.54 475v-2.2M441.29 475v-4M458.04 475v-2.2M474.78 475v-4M491.53 475v-2.2M508.28 475v-4M525.02 475v-2.2M541.77 475v-4M558.52 475v-2.2M575.26 475v-4M592.01 475v-2.2M608.76 475v-4M625.51 475v-2.2M642.25 475v-4M659 475v-2.2M374.3 453.56h2.2M374.3 432.12h4M374.3 410.68h2.2M374.3 389.24h4M374.3 367.8h2.2M374.3 346.36h4M374.3 324.92h2.2M374.3 303.48h4M374.3 282.04h2.2" stroke="#444" stroke-width="1" fill="none"/>
<rect x="374.3" y="260.6" width="284.7" height="214.4" fill="none" stroke="#383838" stroke-width="1.2"/>
<g font-family="Liberation Sans, sans-serif" stroke="#222" stroke-width="0.15" font-size="10" fill="#222"><text x="374.3" y="487.9" text-anchor="middle">0</text><text x="407.79" y="487.9" text-anchor="middle">1</text><text x="441.29" y="487.9" text-anchor="middle">2</text><text x="474.78" y="487.9" text-anchor="middle">3</text><text x="508.28" y="487.9" text-anchor="middle">4</text><text x="541.77" y="487.9" text-anchor="middle">5</text><text x="575.26" y="487.9" text-anchor="middle">6</text><text x="608.76" y="487.9" text-anchor="middle">7</text><text x="642.25" y="487.9" text-anchor="middle">8</text><text x="369.4" y="478.6" text-anchor="end">0</text><text x="369.4" y="435.72" text-anchor="end">20</text><text x="369.4" y="392.84" text-anchor="end">40</text><text x="369.4" y="349.96" text-anchor="end">60</text><text x="369.4" y="307.08" text-anchor="end">80</text><text x="369.4" y="264.2" text-anchor="end">100</text></g>
<text font-family="Liberation Sans, sans-serif" stroke="#222" stroke-width="0.15" font-size="10" fill="#222" x="516.8" y="505.3" text-anchor="middle">Time (min)</text>
<text font-family="Liberation Sans, sans-serif" stroke="#222" stroke-width="0.15" font-size="10.2" fill="#222" transform="translate(348.5 374.4) rotate(-90)" text-anchor="middle">Relative crystallinity (%)</text>
<text font-family="Liberation Sans, sans-serif" stroke="#222" stroke-width="0.15" font-size="10" fill="#222" x="628.7" y="273.3">PGA</text>
<g font-family="Liberation Sans, sans-serif" stroke="#222" stroke-width="0.15" font-size="10" fill="#222"><path d="M580.5 392.4H604.5" stroke="#ff5f4b" stroke-width="1.3"/><text x="606.8" y="396">10<tspan font-size="8.3" dy="-0.7">°</tspan><tspan dx="0.68" dy="0.7">C/min</tspan></text><path d="M580.5 405.18H604.5" stroke="#148c82" stroke-width="1.6"/><text x="606.8" y="408.78">7<tspan font-size="8.3" dy="-0.7">°</tspan><tspan dx="0.68" dy="0.7">C/min</tspan></text><path d="M580.5 417.96H604.5" stroke="#a21fa5" stroke-width="1.6"/><text x="606.8" y="421.56">5<tspan font-size="8.3" dy="-0.7">°</tspan><tspan dx="0.68" dy="0.7">C/min</tspan></text><path d="M580.5 430.74H604.5" stroke="#b01820" stroke-width="1.7"/><text x="606.8" y="434.34">3<tspan font-size="8.3" dy="-0.7">°</tspan><tspan dx="0.68" dy="0.7">C/min</tspan></text><path d="M580.5 443.52H604.5" stroke="#7a7a7a" stroke-width="1.2"/><text x="606.8" y="447.12">1<tspan font-size="8.3" dy="-0.7">°</tspan><tspan dx="0.68" dy="0.7">C/min</tspan></text><path d="M580.5 456.3H604.5" stroke="#2314a0" stroke-width="1.6"/><text x="606.8" y="459.9">0.5<tspan font-size="8.3" dy="-0.7">°</tspan><tspan dx="0.68" dy="0.7">C/min</tspan></text></g>
<path d="M374.3 475L374.89 475 375.08 475 375.27 475 375.45 475 375.64 475 375.82 475 375.99 475 376.17 475 376.34 475 376.52 475 376.68 475 376.85 474.67 377.02 474.14 377.18 473.57 377.34 472.96 377.5 472.32 377.66 471.64 377.81 470.93 377.97 470.18 378.12 469.39 378.27 468.58 378.42 467.72 378.56 466.84 378.71 465.92 378.85 464.97 378.99 463.99 379.13 462.98 379.27 461.94 379.41 460.87 379.54 459.77 379.67 458.64 379.81 457.49 379.94 456.3 380.06 455.09 380.19 453.85 380.32 452.59 380.44 451.29 380.56 449.98 380.69 448.64 380.81 447.27 380.93 445.89 381.04 444.48 381.16 443.04 381.28 441.59 381.39 440.11 381.5 438.61 381.62 437.09 381.73 435.55 381.84 433.99 381.94 432.42 382.05 430.82 382.16 429.21 382.27 427.58 382.37 425.93 382.48 424.26 382.58 422.58 382.68 420.89 382.78 419.18 382.88 417.45 382.98 415.71 383.08 413.96 383.18 412.2 383.28 410.42 383.38 408.63 383.47 406.83 383.57 405.02 383.67 403.2 383.76 401.37 383.86 399.53 383.95 397.68 384.05 395.82 384.14 393.96 384.23 392.09 384.32 390.21 384.42 388.32 384.51 386.43 384.6 384.54 384.69 382.64 384.78 380.73 384.88 378.83 384.97 376.92 385.06 375 385.15 373.09 385.24 371.17 385.33 369.26 385.42 367.34 385.51 365.42 385.6 363.5 385.69 361.59 385.79 359.67 385.88 357.76 385.97 355.85 386.06 353.95 386.15 352.04 386.24 350.14 386.34 348.25 386.43 346.36 386.52 344.48 386.61 342.6 386.71 340.73 386.8 338.87 386.9 337.02 386.99 335.17 387.09 333.33 387.18 331.5 387.28 329.68 387.38 327.88 387.47 326.08 387.57 324.29 387.67 322.52 387.77 320.76 387.87 319.01 387.97 317.27 388.07 315.55 388.18 313.85 388.28 312.16 388.39 310.48 388.49 308.82 388.6 307.18 388.7 305.55 388.81 303.94 388.92 302.35 389.03 300.78 389.14 299.22 389.26 297.69 389.37 296.18 389.48 294.68 389.6 293.21 389.72 291.76 389.83 290.34 389.95 288.93 390.07 287.55 390.2 286.19 390.32 284.86 390.44 283.55 390.57 282.26 390.7 281.01 390.83 279.77 390.96 278.57 391.09 277.39 391.22 276.24 391.36 275.12 391.5 274.03 391.63 272.97 391.77 271.93 391.92 270.93 392.06 269.96 392.2 269.02 392.35 268.11 392.5 267.24 392.65 266.39 392.8 265.59 392.96 264.81 393.11 264.07 393.27 263.36 393.43 262.69 393.59 262.06 393.76 261.46 393.92 260.9 394.09 260.6 394.26 260.6 394.43 260.6 394.61 260.6 394.78 260.6 394.96 260.6 395.14 260.6 395.33 260.6 395.51 260.6 395.7 260.6 395.89 260.6 396.08 260.6 396.28 260.6 397.4 260.6" fill="none" stroke="#ff5f4b" stroke-width="1.3" stroke-linejoin="round"/>
<path d="M374.3 475L374.87 475 375.09 475 375.31 475 375.53 475 375.75 475 375.96 475 376.17 475 376.38 475 376.59 475 376.79 475 376.99 475 377.19 475 377.38 474.88 377.58 474.38 377.77 473.85 377.96 473.28 378.15 472.68 378.33 472.03 378.51 471.36 378.69 470.64 378.87 469.9 379.05 469.12 379.22 468.31 379.4 467.46 379.57 466.58 379.74 465.67 379.9 464.73 380.07 463.76 380.23 462.76 380.39 461.73 380.55 460.67 380.71 459.58 380.86 458.46 381.02 457.31 381.17 456.14 381.32 454.94 381.47 453.72 381.62 452.46 381.76 451.19 381.91 449.89 382.05 448.56 382.19 447.21 382.33 445.84 382.47 444.44 382.61 443.03 382.75 441.59 382.88 440.13 383.02 438.65 383.15 437.15 383.28 435.63 383.41 434.09 383.54 432.53 383.66 430.95 383.79 429.36 383.92 427.74 384.04 426.11 384.17 424.47 384.29 422.81 384.41 421.13 384.53 419.44 384.65 417.74 384.77 416.02 384.89 414.29 385 412.54 385.12 410.79 385.24 409.02 385.35 407.24 385.47 405.45 385.58 403.65 385.69 401.84 385.81 400.02 385.92 398.19 386.03 396.36 386.14 394.51 386.25 392.66 386.36 390.8 386.47 388.94 386.58 387.07 386.69 385.19 386.8 383.31 386.91 381.43 387.02 379.54 387.13 377.65 387.24 375.76 387.34 373.86 387.45 371.96 387.56 370.06 387.67 368.17 387.78 366.27 387.88 364.37 387.99 362.47 388.1 360.57 388.21 358.67 388.32 356.78 388.43 354.89 388.53 353 388.64 351.12 388.75 349.24 388.86 347.37 388.97 345.5 389.08 343.64 389.19 341.78 389.3 339.93 389.41 338.09 389.53 336.25 389.64 334.42 389.75 332.61 389.87 330.8 389.98 329 390.09 327.21 390.21 325.43 390.33 323.66 390.44 321.91 390.56 320.17 390.68 318.44 390.8 316.72 390.92 315.02 391.04 313.33 391.16 311.66 391.28 310 391.41 308.36 391.53 306.73 391.66 305.12 391.78 303.53 391.91 301.95 392.04 300.4 392.17 298.86 392.3 297.34 392.43 295.84 392.57 294.37 392.7 292.91 392.84 291.47 392.98 290.06 393.12 288.67 393.26 287.3 393.4 285.95 393.54 284.63 393.69 283.33 393.83 282.06 393.98 280.81 394.13 279.59 394.28 278.4 394.43 277.23 394.59 276.09 394.75 274.97 394.9 273.89 395.06 272.83 395.22 271.8 395.39 270.81 395.55 269.84 395.72 268.9 395.89 268 396.06 267.13 396.23 266.28 396.41 265.48 396.58 264.7 396.76 263.96 396.94 263.25 397.13 262.58 397.31 261.94 397.5 261.34 397.69 260.78 397.88 260.6 398.08 260.6 398.27 260.6 398.47 260.6 398.67 260.6 398.88 260.6 399.08 260.6 399.29 260.6 399.5 260.6 399.72 260.6 399.93 260.6 401 260.6" fill="none" stroke="#148c82" stroke-width="1.6" stroke-linejoin="round"/>
<path d="M374.3 475L375.06 475 375.37 475 375.68 475 375.99 475 376.29 475 376.58 475 376.88 475 377.17 475 377.46 475 377.74 475 378.02 475 378.3 475 378.57 475 378.84 474.6 379.11 474.1 379.37 473.55 379.63 472.97 379.89 472.36 380.14 471.71 380.39 471.02 380.64 470.29 380.89 469.54 381.13 468.74 381.37 467.92 381.6 467.06 381.84 466.17 382.07 465.24 382.3 464.29 382.52 463.3 382.75 462.29 382.97 461.24 383.19 460.16 383.4 459.06 383.61 457.93 383.83 456.76 384.03 455.57 384.24 454.36 384.44 453.12 384.65 451.85 384.85 450.55 385.04 449.24 385.24 447.89 385.43 446.53 385.62 445.13 385.81 443.72 386 442.29 386.19 440.83 386.37 439.35 386.55 437.85 386.73 436.33 386.91 434.79 387.09 433.23 387.26 431.65 387.43 430.06 387.61 428.44 387.78 426.81 387.95 425.16 388.11 423.5 388.28 421.82 388.45 420.12 388.61 418.41 388.77 416.69 388.93 414.95 389.09 413.2 389.25 411.44 389.41 409.66 389.57 407.87 389.72 406.07 389.88 404.26 390.03 402.44 390.18 400.61 390.34 398.78 390.49 396.93 390.64 395.07 390.79 393.21 390.94 391.34 391.09 389.47 391.24 387.58 391.39 385.7 391.53 383.8 391.68 381.91 391.83 380.01 391.97 378.1 392.12 376.19 392.27 374.28 392.41 372.37 392.56 370.46 392.7 368.54 392.85 366.63 392.99 364.71 393.14 362.8 393.28 360.89 393.43 358.97 393.57 357.06 393.72 355.16 393.86 353.25 394.01 351.35 394.16 349.46 394.3 347.57 394.45 345.68 394.6 343.8 394.75 341.93 394.9 340.06 395.04 338.2 395.19 336.35 395.35 334.5 395.5 332.67 395.65 330.84 395.8 329.02 395.95 327.22 396.11 325.42 396.26 323.64 396.42 321.87 396.58 320.11 396.73 318.36 396.89 316.63 397.05 314.91 397.22 313.2 397.38 311.51 397.54 309.84 397.71 308.18 397.87 306.53 398.04 304.91 398.21 303.3 398.38 301.71 398.55 300.14 398.73 298.58 398.9 297.05 399.08 295.54 399.26 294.04 399.44 292.57 399.62 291.12 399.81 289.69 399.99 288.29 400.18 286.9 400.37 285.54 400.56 284.21 400.75 282.9 400.95 281.61 401.15 280.35 401.35 279.12 401.55 277.91 401.75 276.73 401.96 275.58 402.17 274.45 402.38 273.36 402.59 272.29 402.81 271.25 403.03 270.25 403.25 269.27 403.47 268.33 403.7 267.41 403.93 266.53 404.16 265.68 404.4 264.87 404.63 264.09 404.87 263.34 405.12 262.63 405.36 261.95 405.61 261.31 405.86 260.7 406.12 260.6 406.37 260.6 406.64 260.6 406.9 260.6 407.17 260.6 407.44 260.6 407.71 260.6 407.99 260.6 408.27 260.6 408.55 260.6 409.6 260.6" fill="none" stroke="#a21fa5" stroke-width="1.6" stroke-linejoin="round"/>
<path d="M374.3 475L375.26 475 375.76 475 376.25 475 376.74 475 377.22 475 377.7 475 378.17 475 378.63 475 379.09 475 379.54 475 379.99 475 380.43 475 380.87 475 381.3 475 381.72 474.71 382.14 474.16 382.56 473.58 382.96 472.96 383.37 472.3 383.77 471.6 384.16 470.87 384.55 470.11 384.94 469.31 385.32 468.47 385.69 467.6 386.06 466.7 386.43 465.77 386.79 464.8 387.15 463.8 387.5 462.77 387.85 461.71 388.19 460.63 388.53 459.51 388.87 458.36 389.2 457.18 389.53 455.98 389.85 454.75 390.18 453.49 390.49 452.2 390.81 450.89 391.12 449.56 391.42 448.2 391.73 446.81 392.03 445.41 392.33 443.97 392.62 442.52 392.91 441.04 393.2 439.55 393.48 438.03 393.77 436.49 394.04 434.93 394.32 433.35 394.6 431.75 394.87 430.14 395.14 428.5 395.4 426.85 395.67 425.18 395.93 423.5 396.19 421.8 396.45 420.08 396.7 418.35 396.95 416.6 397.21 414.84 397.46 413.07 397.7 411.29 397.95 409.49 398.19 407.68 398.44 405.86 398.68 404.03 398.92 402.19 399.16 400.34 399.4 398.48 399.63 396.62 399.87 394.74 400.1 392.86 400.34 390.97 400.57 389.07 400.8 387.17 401.03 385.26 401.26 383.35 401.49 381.43 401.72 379.51 401.95 377.59 402.18 375.66 402.4 373.73 402.63 371.8 402.86 369.87 403.09 367.94 403.31 366.01 403.54 364.08 403.77 362.15 403.99 360.22 404.22 358.29 404.45 356.37 404.68 354.44 404.91 352.53 405.14 350.61 405.37 348.7 405.6 346.8 405.83 344.9 406.06 343.01 406.29 341.12 406.53 339.24 406.76 337.37 407 335.51 407.24 333.66 407.48 331.81 407.72 329.98 407.96 328.15 408.2 326.34 408.45 324.54 408.69 322.75 408.94 320.97 409.19 319.21 409.44 317.45 409.69 315.72 409.95 313.99 410.21 312.29 410.47 310.6 410.73 308.92 410.99 307.26 411.26 305.62 411.53 304 411.8 302.39 412.07 300.8 412.35 299.24 412.63 297.69 412.91 296.16 413.2 294.65 413.48 293.17 413.77 291.71 414.07 290.26 414.36 288.85 414.66 287.45 414.97 286.08 415.27 284.74 415.58 283.42 415.9 282.12 416.22 280.85 416.54 279.61 416.86 278.39 417.19 277.21 417.52 276.05 417.86 274.91 418.2 273.81 418.54 272.74 418.89 271.7 419.24 270.69 419.6 269.71 419.96 268.76 420.33 267.85 420.7 266.96 421.07 266.12 421.45 265.3 421.83 264.52 422.22 263.78 422.62 263.07 423.02 262.39 423.42 261.75 423.83 261.15 424.24 260.6 424.66 260.6 425.09 260.6 425.52 260.6 425.95 260.6 426.39 260.6 426.84 260.6 428 260.6" fill="none" stroke="#b01820" stroke-width="1.7" stroke-linejoin="round"/>
<path d="M374.3 475L375.63 474.68 376.62 475 377.61 475 378.61 475 379.6 475 380.58 475 381.57 475 382.56 475 383.54 475 384.52 475 385.5 475 386.47 475 387.44 475 388.41 475 389.37 475 390.34 475 391.3 475 392.25 475 393.2 475 394.15 475 395.09 475 396.03 475 396.96 475 397.89 475 398.81 475 399.73 475 400.64 474.96 401.55 474.43 402.45 473.87 403.35 473.28 404.24 472.65 405.13 471.99 406 471.29 406.88 470.57 407.74 469.8 408.6 469.01 409.45 468.18 410.3 467.33 411.13 466.44 411.96 465.52 412.79 464.57 413.6 463.59 414.41 462.59 415.21 461.55 416 460.48 416.78 459.39 417.55 458.27 418.32 457.12 419.07 455.95 419.82 454.75 420.56 453.52 421.29 452.27 422 451 422.71 449.7 423.42 448.37 424.11 447.03 424.79 445.66 425.47 444.26 426.13 442.85 426.79 441.41 427.44 439.96 428.09 438.48 428.72 436.98 429.35 435.47 429.97 433.93 430.58 432.38 431.19 430.81 431.79 429.22 432.38 427.61 432.96 425.99 433.54 424.35 434.12 422.69 434.68 421.02 435.24 419.34 435.79 417.64 436.34 415.93 436.88 414.2 437.42 412.46 437.95 410.71 438.48 408.95 439 407.17 439.51 405.39 440.02 403.59 440.53 401.79 441.03 399.97 441.53 398.15 442.02 396.32 442.51 394.48 442.99 392.63 443.47 390.78 443.95 388.91 444.42 387.05 444.89 385.18 445.36 383.3 445.82 381.42 446.28 379.53 446.74 377.64 447.19 375.75 447.65 373.85 448.1 371.95 448.54 370.05 448.99 368.15 449.44 366.25 449.88 364.35 450.32 362.44 450.77 360.54 451.21 358.64 451.65 356.74 452.1 354.85 452.54 352.95 452.98 351.06 453.43 349.17 453.88 347.28 454.32 345.4 454.77 343.53 455.23 341.66 455.68 339.79 456.14 337.93 456.6 336.08 457.06 334.23 457.53 332.4 458 330.57 458.47 328.74 458.95 326.93 459.43 325.13 459.92 323.33 460.41 321.55 460.91 319.78 461.41 318.02 461.92 316.27 462.43 314.53 462.95 312.8 463.48 311.09 464.02 309.39 464.56 307.71 465.11 306.04 465.66 304.38 466.23 302.74 466.8 301.12 467.38 299.51 467.97 297.92 468.56 296.34 469.17 294.79 469.79 293.25 470.41 291.73 471.05 290.24 471.69 288.76 472.34 287.3 473 285.87 473.67 284.47 474.35 283.08 475.04 281.72 475.74 280.39 476.44 279.09 477.16 277.82 477.88 276.57 478.61 275.35 479.36 274.17 480.11 273.01 480.87 271.89 481.63 270.8 482.41 269.75 483.2 268.73 483.99 267.75 484.8 266.8 485.61 265.89 486.43 265.02 487.26 264.19 488.1 263.4 488.95 262.66 489.8 261.95 490.67 261.28 491.54 260.66 492.42 260.6 493.31 260.6 494.22 260.6 501 260.6" fill="none" stroke="#7a7a7a" stroke-width="1.2" stroke-linejoin="round"/>
<path d="M374.3 475L376.43 475 378.6 475 380.78 475 382.96 475 385.15 475 387.33 475 389.52 475 391.71 475 393.9 475 396.09 475 398.27 475 400.45 474.85 402.62 474.64 404.79 474.41 406.95 474.14 409.1 473.84 411.24 473.52 413.37 473.15 415.49 472.76 417.6 472.33 419.69 471.86 421.76 471.36 423.82 470.82 425.86 470.24 427.88 469.61 429.89 468.95 431.87 468.24 433.82 467.48 435.76 466.68 437.67 465.83 439.56 464.94 441.41 463.99 443.24 463 445.04 461.95 446.82 460.85 448.56 459.7 450.27 458.5 451.96 457.26 453.62 455.97 455.25 454.64 456.86 453.28 458.44 451.87 459.99 450.43 461.52 448.96 463.03 447.46 464.51 445.92 465.97 444.36 467.41 442.78 468.82 441.17 470.22 439.54 471.59 437.88 472.94 436.22 474.27 434.53 475.58 432.84 476.87 431.13 478.14 429.41 479.39 427.68 480.63 425.95 481.85 424.21 483.05 422.47 484.24 420.72 485.41 418.96 486.56 417.2 487.7 415.43 488.83 413.65 489.95 411.86 491.05 410.07 492.14 408.28 493.21 406.47 494.28 404.66 495.34 402.85 496.38 401.03 497.42 399.2 498.45 397.36 499.47 395.52 500.48 393.67 501.48 391.81 502.48 389.95 503.47 388.09 504.46 386.21 505.44 384.33 506.42 382.44 507.39 380.55 508.36 378.65 509.33 376.75 510.29 374.84 511.25 372.93 512.22 371.02 513.18 369.1 514.14 367.19 515.1 365.27 516.06 363.35 517.03 361.43 517.99 359.51 518.96 357.59 519.93 355.67 520.91 353.76 521.89 351.85 522.87 349.94 523.86 348.03 524.85 346.13 525.86 344.23 526.86 342.33 527.88 340.45 528.9 338.56 529.93 336.69 530.98 334.82 532.03 332.96 533.09 331.11 534.16 329.26 535.24 327.43 536.33 325.61 537.44 323.79 538.56 321.99 539.69 320.2 540.83 318.41 541.99 316.65 543.17 314.89 544.36 313.15 545.56 311.42 546.78 309.71 548.02 308.01 549.28 306.33 550.55 304.66 551.85 303.01 553.16 301.38 554.49 299.77 555.84 298.17 557.21 296.59 558.61 295.03 560.02 293.49 561.46 291.98 562.92 290.48 564.41 289 565.91 287.55 567.45 286.12 569 284.71 570.59 283.32 572.2 281.96 573.83 280.62 575.49 279.31 577.18 278.03 578.89 276.78 580.63 275.55 582.39 274.36 584.17 273.2 585.98 272.08 587.81 270.99 589.66 269.94 591.53 268.92 593.42 267.95 595.34 267.02 597.27 266.13 599.22 265.29 601.19 264.49 603.18 263.75 605.19 263.05 607.21 262.4 609.25 261.8 611.31 261.25 613.38 260.76 615.47 260.6 626 260.6" fill="none" stroke="#2314a0" stroke-width="1.6" stroke-linejoin="round"/></svg>
</body></html>
